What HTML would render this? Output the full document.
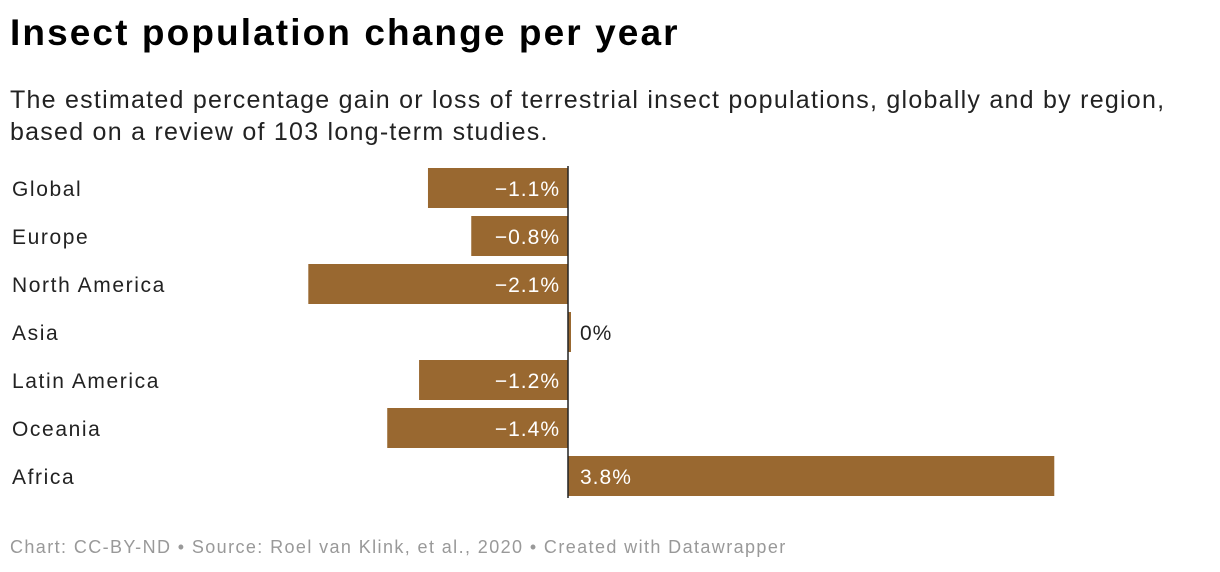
<!DOCTYPE html>
<html><head><meta charset="utf-8"><style>
body{margin:0;width:1220px;height:572px;background:#fff;font-family:"Liberation Sans",sans-serif;overflow:hidden;position:relative}
#title{position:absolute;left:10px;top:12px;font-size:37px;font-weight:bold;color:#000;letter-spacing:2.1px;white-space:nowrap}
#sub{position:absolute;left:10px;top:84px;font-size:25px;line-height:32px;color:#222;width:1210px;letter-spacing:1.25px;white-space:nowrap}
#foot{position:absolute;left:10px;top:537px;font-size:18px;color:#999;letter-spacing:1.4px;white-space:nowrap}
svg{position:absolute;left:0;top:0}
</style></head><body>
<div id="title">Insect population change per year</div>
<div id="sub">The estimated percentage gain or loss of terrestrial insect populations, globally and by region,<br>based on a review of 103 long-term studies.</div>
<svg id="chart" width="1220" height="572"></svg>
<div id="foot">Chart: CC-BY-ND • Source: Roel van Klink, et al., 2020 • Created with Datawrapper</div>
<script>
const categories=["Global","Europe","North America","Asia","Latin America","Oceania","Africa"];
const values=[-1.1,-0.76,-2.04,0,-1.17,-1.42,3.82];
const labels=["−1.1%","−0.8%","−2.1%","0%","−1.2%","−1.4%","3.8%"];
const svg=document.getElementById('chart');
const NS="http://www.w3.org/2000/svg";
const x0=568,scale=127.3;
const xs=v=>x0+v*scale;
const yc=i=>188+i*48;
function mk(t,a){const e=document.createElementNS(NS,t);for(const k in a)e.setAttribute(k,a[k]);svg.appendChild(e);return e;}
categories.forEach((c,i)=>{
  const t=mk('text',{x:12,y:yc(i)+8,'font-size':21,fill:'#222','letter-spacing':1.6});t.textContent=c;
  
  
  const v=values[i];
  let x=Math.min(xs(0),xs(v)),w=Math.abs(xs(v)-xs(0));
  if(w<3)w=3;
  const r=mk('rect',{x:x,y:yc(i)-20,width:w,height:40,fill:'#996830'});
  
  
  let lt;
  if(v<0){lt=mk('text',{x:xs(0)-8,y:yc(i)+8,'font-size':21,fill:'#fff','text-anchor':'end','letter-spacing':1});}
  else if(w>60){lt=mk('text',{x:xs(0)+12,y:yc(i)+8,'font-size':21,fill:'#fff','letter-spacing':1});}
  else{lt=mk('text',{x:xs(v)+12,y:yc(i)+8,'font-size':21,fill:'#222','letter-spacing':1});}
  lt.textContent=labels[i];
  
  
});
const ax=mk('line',{x1:x0,x2:x0,y1:166,y2:498,stroke:'#222','stroke-width':1.5});


</script>
</body></html>
